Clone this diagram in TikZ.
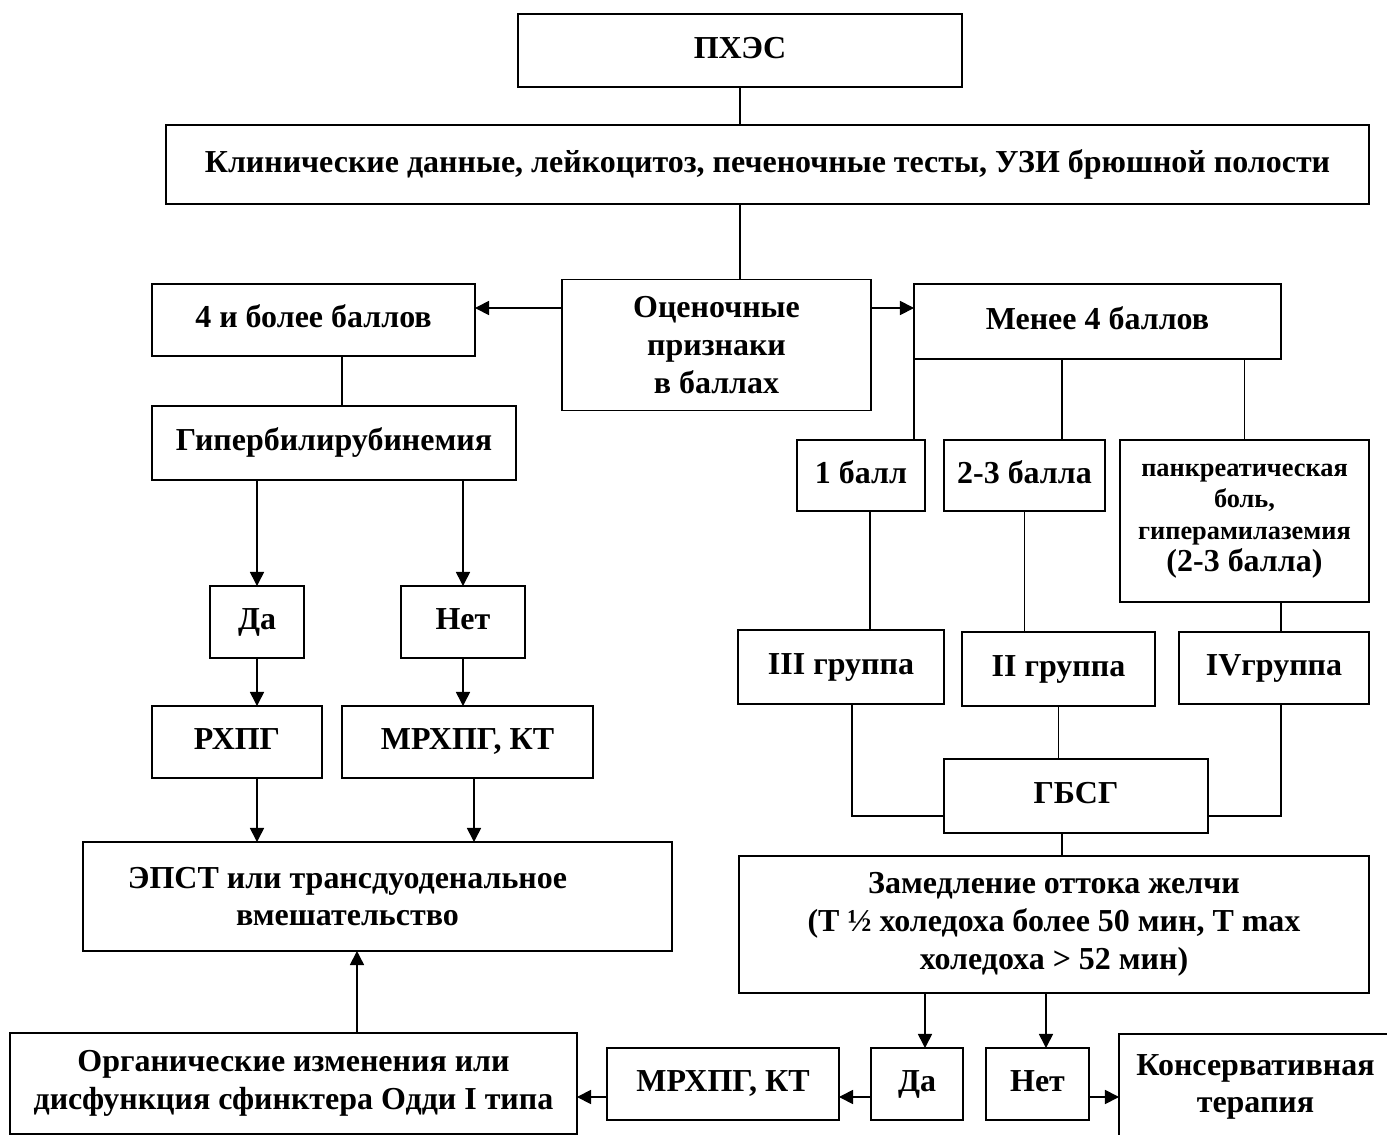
\documentclass[tikz,border=0pt]{standalone}
\usepackage{fontspec}
\setmainfont{Liberation Serif}
\usetikzlibrary{arrows.meta, positioning}

\begin{document}
\begin{tikzpicture}[x=0.02cm, y=-0.02cm, >={Triangle[length=8pt,width=8pt]},
    line width=0.9pt,
    font=\bfseries\fontsize{18.2}{21.5}\selectfont,
    box/.style={draw, line width=0.9pt, inner sep=0pt, outer sep=0pt, align=center},
    one/.style={box, text height=13pt, text depth=4pt},
    small/.style={font=\bfseries\fontsize{15}{18}\selectfont}]

\useasboundingbox (0,0) rectangle (1387,1135);

% top part
\node[one, minimum width=8.88cm, minimum height=1.46cm] (pxes) at (740,50.5) {ПХЭС};
\node[one, minimum width=24.06cm, minimum height=1.58cm] (klin) at (767.5,164.5) {Клинические данные, лейкоцитоз, печеночные тесты, УЗИ брюшной полости};
\node[box, minimum width=6.18cm, minimum height=2.62cm] (ocen) at (716.5,345) {Оценочные\\признаки\\в баллах};
\node[one, minimum width=6.46cm, minimum height=1.44cm] (b4) at (313.5,320) {4 и более баллов};
\node[one, minimum width=7.34cm, minimum height=1.5cm] (m4) at (1097.5,321.5) {Менее 4 баллов};

% left branch
\node[one, minimum width=7.28cm, minimum height=1.48cm] (gip) at (334,443) {Гипербилирубинемия};
\node[one, minimum width=1.88cm, minimum height=1.44cm] (da1) at (257,622) {Да};
\node[one, minimum width=2.48cm, minimum height=1.44cm] (net1) at (463,622) {Нет};
\node[one, minimum width=3.4cm, minimum height=1.44cm] (rhpg) at (237,742) {РХПГ};
\node[one, minimum width=5.02cm, minimum height=1.44cm] (mr1) at (467.5,742) {МРХПГ, КТ};
\node[box, minimum width=11.78cm, minimum height=2.18cm,
      label={[align=center, xshift=-0.6cm]center:ЭПСТ или трансдуоденальное\\вмешательство}] (epst) at (377.5,896.5) {};

% right branch
\node[one, minimum width=2.56cm, minimum height=1.42cm] (b1) at (861,475.5) {1 балл};
\node[one, minimum width=3.22cm, minimum height=1.42cm] (b23) at (1024.5,475.5) {2-3 балла};
\node[box, small, minimum width=4.98cm, minimum height=3.24cm] (pank) at (1244.5,521) {панкреатическая\\боль,\\гиперамилаземия\\\fontsize{18.2}{21.5}\selectfont(2-3 балла)};
\node[one, minimum width=4.12cm, minimum height=1.48cm] (g3) at (841,667) {III группа};
\node[one, minimum width=3.86cm, minimum height=1.48cm] (g2) at (1058.5,669) {II группа};
\node[one, minimum width=3.8cm, minimum height=1.44cm] (g4) at (1274,668) {IVгруппа};
\node[one, minimum width=5.28cm, minimum height=1.48cm] (gbsg) at (1076,796) {ГБСГ};
\node[box, minimum width=12.6cm, minimum height=2.74cm] (zam) at (1054,924.5) {Замедление оттока желчи\\(Т ½ холедоха более 50 мин, T max\\холедоха > 52 мин)};

% bottom row
\node[box, minimum width=11.34cm, minimum height=2.02cm] (org) at (293.5,1083.5) {Органические изменения или\\дисфункция сфинктера Одди I типа};
\node[one, minimum width=4.64cm, minimum height=1.44cm] (mr2) at (723,1084) {МРХПГ, КТ};
\node[one, minimum width=1.84cm, minimum height=1.44cm] (da2) at (917,1084) {Да};
\node[one, minimum width=2.06cm, minimum height=1.44cm] (net2) at (1037.5,1084) {Нет};
\node[box, minimum width=5.46cm, minimum height=2.12cm] (kons) at (1255.5,1087) {Консервативная\\терапия};

% connectors
\draw (pxes.south) -- (klin.north -| pxes.south);
\draw (klin.south -| pxes.south) -- (ocen.north -| pxes.south);
\draw[->] ([yshift=0.74cm]ocen.west) -- ([yshift=0.74cm]ocen.west -| b4.east);
\draw[->] ([yshift=0.74cm]ocen.east) -- ([yshift=0.74cm]ocen.east -| m4.west);
\draw ([xshift=0.57cm]b4.south) -- ([xshift=0.57cm]b4.south |- gip.north);

\draw[->] (gip.south -| da1.north) -- (da1.north);
\draw[->] (gip.south -| net1.north) -- (net1.north);
\draw[->] (da1.south) -- (da1.south |- rhpg.north);
\draw[->] (net1.south) -- (net1.south |- mr1.north);
\draw[->] (rhpg.south -| da1.south) -- (epst.north -| da1.south);
\draw[->] ([xshift=0.13cm]mr1.south) -- ([xshift=0.13cm]mr1.south |- epst.north);
\draw[->] ([xshift=1.27cm]org.north) -- ([xshift=1.27cm]org.north |- epst.south);

\draw (m4.south west) -- (m4.south west |- b1.north);
\draw ([xshift=-0.71cm]m4.south) -- ([xshift=-0.71cm]m4.south |- b23.north);
\draw (pank.north) -- (pank.north |- m4.south);
\draw ([xshift=0.18cm]b1.south) -- ([xshift=0.18cm]b1.south |- g3.north);
\draw (b23.south) -- (b23.south |- g2.north);
\draw ([xshift=0.73cm]pank.south) -- ([xshift=0.73cm]pank.south |- g4.north);
\draw ([xshift=0.22cm]g3.south) |- ([yshift=-0.4cm]gbsg.west);
\draw ([xshift=0.14cm]g4.south) |- ([yshift=-0.4cm]gbsg.east);
\draw (g2.south) -- (g2.south |- gbsg.north);
\draw ([xshift=-0.28cm]gbsg.south) -- ([xshift=-0.28cm]gbsg.south |- zam.north);

\draw[->] ([xshift=0.16cm]da2.north |- zam.south) -- ([xshift=0.16cm]da2.north);
\draw[->] ([xshift=0.17cm]net2.north |- zam.south) -- ([xshift=0.17cm]net2.north);
\draw[->] ([yshift=-0.26cm]da2.west) -- ([yshift=-0.26cm]da2.west -| mr2.east);
\draw[->] ([yshift=-0.26cm]mr2.west) -- ([yshift=-0.26cm]mr2.west -| org.east);
\draw[->] ([yshift=-0.26cm]net2.east) -- ([yshift=-0.26cm]net2.east -| kons.west);

\end{tikzpicture}
\end{document}
